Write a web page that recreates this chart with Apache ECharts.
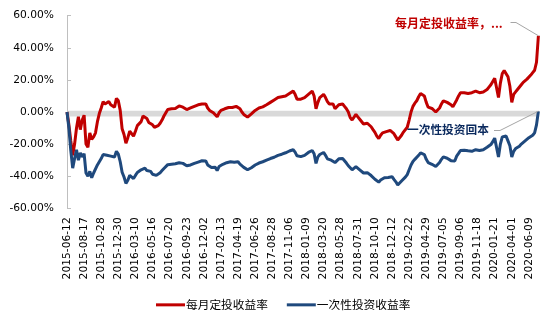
<!DOCTYPE html>
<html>
<head>
<meta charset="utf-8">
<script src="https://cdn.jsdelivr.net/npm/echarts@6/dist/echarts.min.js"></script>
<style>
html,body{margin:0;padding:0;background:#fff;}
#chart{width:554px;height:323px;}
</style>
</head>
<body>
<div id="chart"></div>
<script>
// x-axis tick labels (one every 45 trading days)
const tickLabels = [
  '2015-06-12','2015-08-17','2015-10-28','2015-12-30','2016-03-10','2016-05-16','2016-07-20',
  '2016-09-23','2016-12-02','2017-02-13','2017-04-19','2017-06-26','2017-08-28','2017-11-06',
  '2018-01-09','2018-03-20','2018-05-28','2018-07-31','2018-10-10','2018-12-12','2019-02-22',
  '2019-04-29','2019-07-05','2019-09-06','2019-11-18','2020-01-21','2020-04-01','2020-06-09'
];
const tickEveryDays = 45;
const sampleStepDays = 5;   // one value read every 5 trading days
const seriesNames = ['每月定投收益率', '一次性投资收益率'];

// 每月定投收益率 (%)
const monthlyReturn = [
  0,-8,-18,-27,-20,-10,-3,-11,-5,-2,
  -20,-22,-13,-17,-15.5,-13,-6,-1,2.5,6.5,
  5,6,6.5,4.5,4,3,8.5,7,1,-10.5,
  -14,-19.5,-16,-12,-13,-15,-12,-8.5,-8,-6,
  -2.5,-2.5,-4,-6.5,-6,-8,-9.5,-9.5,-8.5,-7,
  -5,-2.5,-0.5,1.5,1.2,2,3,2.2,2.5,3.8,
  4,3,3,1.5,0.8,2.5,3.5,3.5,4,4.5,
  4.8,5,5.5,5,2.5,1,0,-0.5,-1.5,-3,
  -0.5,1,1.5,2,2.5,2.8,3,2.8,3,3.5,
  4,2,0,-1.5,-2.5,-3.2,-2.5,-1.2,0,1,
  2,2.5,3,3.2,4,4.5,5,6,6.5,7.5,
  8,9,9,9.5,10,10,11,11.5,12,13,
  11,8,7.5,8,8.5,9,10,11,12,13,
  10,2,6,9,10,11,9,6.5,5,5,
  5,2,3,4.5,5.5,5,3.5,2,0,-3.5,
  -5,-4.5,-1.5,-3,-4.5,-5.4,-7.5,-8.2,-7,-7.5,
  -9.2,-11,-12.7,-15,-16.5,-14.5,-13,-11.8,-12.2,-12.7,
  -11.5,-11,-13.5,-15.5,-17.5,-16.5,-14.5,-12.5,-11.5,-9.5,
  -5,0,3.5,5.5,7,9.5,11.5,12,10,6,
  3,2.8,2.2,1.5,0,-1,2.5,5,7,6.5,
  6,5.5,4.5,3.2,4,7.5,10,12,13,12,
  11,11.5,12,12,12.5,13,12.5,12,12,12.5,
  13.5,14,15.5,17,19,21,22,9,18,24,
  25.8,25.5,22,16,6,11,12.5,14,15,17,
  18.5,19,20.5,21.5,23,24.5,26,31,47.5
];

// 一次性投资收益率 (%)
const lumpSumReturn = [
  0,-10,-24,-35,-29,-23.5,-30,-25.5,-28,-26,
  -38,-40,-37,-41,-38,-38.5,-33,-31,-29,-26.5,
  -27.5,-27,-26.5,-27.5,-27,-28,-24.5,-26.2,-31,-37.5,
  -40.5,-44.5,-42.5,-39.5,-40,-41.5,-39.5,-37.7,-37,-36,
  -34.8,-35,-36.5,-37.7,-37,-38.8,-39.5,-39.5,-38.7,-37.8,
  -36.5,-35.2,-34,-32.8,-33.3,-32.5,-31.5,-32.2,-32.3,-31.6,
  -31.5,-32,-32.5,-33.5,-34,-33,-32.3,-32,-31.6,-31.2,
  -30.8,-30.4,-30,-30.5,-33,-34,-34.6,-34.5,-34.5,-36.5,
  -34,-33.2,-32.6,-32,-31.6,-31.2,-31,-31.3,-31.3,-31,
  -31,-32.5,-33.5,-34.5,-35.3,-36,-35.5,-34.7,-33.8,-33,
  -32.3,-31.8,-31.3,-31,-30.5,-30,-29.4,-29,-28.5,-28.2,
  -27.5,-27,-26.8,-26.3,-26,-25.4,-24.8,-24.3,-23.8,-23.5,
  -25,-27.3,-27.8,-27.8,-27.5,-27,-26,-25.2,-24.5,-24,
  -26,-32,-28,-26.5,-26,-25.2,-27,-29.2,-30.2,-30,
  -29.6,-31.5,-30.5,-29.2,-28.4,-29,-30.2,-31.8,-33.5,-34.6,
  -36,-36.2,-34,-34.5,-36,-36.7,-38,-38.6,-37.8,-38.5,
  -39.6,-40.8,-41.9,-43,-43.7,-42.4,-41.5,-40.9,-40.8,-40.8,
  -40.2,-40.3,-42,-43.5,-45.5,-44.3,-43,-41.8,-40.6,-39,
  -36,-33,-30.8,-29.5,-28.3,-27,-25.5,-25,-26.5,-29.5,
  -31.5,-32,-32.6,-33.2,-34,-34.6,-31.5,-29.5,-28,-28.3,
  -28.8,-29.3,-30.3,-31.3,-30.5,-27.5,-25.8,-24,-23,-23.8,
  -24.4,-24.2,-24.4,-24.5,-24,-23.5,-23.6,-24,-24,-23.5,
  -22.6,-22,-21.2,-20.3,-18.5,-16.3,-15.8,-28,-20,-15.5,
  -14.8,-15,-18,-21,-28,-24.5,-22.8,-22,-21.3,-20,
  -18.8,-18,-16.8,-16,-15.2,-14.5,-13,-8,0.5
];

const yTicks = { min: -60, max: 60, step: 20 };
const annotationRed = '每月定投收益率，...';
const annotationBlue = '一次性投资回本';

const toPoints = arr => arr.map((v, i) => [i * sampleStepDays, v]);
const lastDay = (monthlyReturn.length - 1) * sampleStepDays;

const chart = echarts.init(document.getElementById('chart'), null, { renderer: 'canvas' });
const numFont = '"DejaVu Sans", Verdana, sans-serif';
const cjkFont = '"Noto Sans CJK SC", sans-serif';

chart.setOption({
  animation: false,
  backgroundColor: '#fff',
  grid: { left: 67, right: 15.6, top: 15.7, bottom: 114.7, containLabel: false },
  legend: {
    left: 151, top: 294,
    icon: 'rect', itemWidth: 29, itemHeight: 3, itemGap: 19,
    textStyle: { fontFamily: cjkFont, fontSize: 11.7, color: '#000', padding: [0, 0, 0, -4] },
    data: seriesNames
  },
  xAxis: {
    type: 'value', min: 0, max: lastDay, interval: tickEveryDays,
    axisLine: { show: false }, axisTick: { show: false }, splitLine: { show: false },
    axisLabel: {
      rotate: 90, margin: 9, fontSize: 10.7, color: '#000', fontFamily: numFont,
      showMaxLabel: false,
      formatter: v => (v % tickEveryDays === 0 && tickLabels[v / tickEveryDays]) || ''
    }
  },
  yAxis: {
    type: 'value', min: yTicks.min, max: yTicks.max, interval: yTicks.step,
    axisLine: { show: true, lineStyle: { color: '#BFBFBF', width: 1 } },
    axisTick: { show: true, inside: true, length: 4, lineStyle: { color: '#BFBFBF' } },
    splitLine: { show: false },
    axisLabel: {
      margin: 13, fontSize: 10.7, color: '#000', fontFamily: numFont,
      formatter: v => v.toFixed(2) + '%'
    }
  },
  series: [
    {
      name: 'zero-band', type: 'line', data: [], z: 1, silent: true,
      markArea: {
        silent: true,
        itemStyle: { color: '#D9D9D9' },
        data: [[{ yAxis: 0.8 }, { yAxis: -2.8 }]]
      }
    },
    {
      name: seriesNames[0], type: 'line', z: 3, showSymbol: false,
      data: toPoints(monthlyReturn),
      lineStyle: { color: '#C00000', width: 3 },
      itemStyle: { color: '#C00000' }
    },
    {
      name: seriesNames[1], type: 'line', z: 3, showSymbol: false,
      data: toPoints(lumpSumReturn),
      lineStyle: { color: '#1F497D', width: 3 },
      itemStyle: { color: '#1F497D' }
    }
  ]
});

const endRed = chart.convertToPixel({ gridIndex: 0 }, [lastDay, monthlyReturn[monthlyReturn.length - 1]]);
const endBlue = chart.convertToPixel({ gridIndex: 0 }, [lastDay, lumpSumReturn[lumpSumReturn.length - 1]]);

chart.setOption({
  graphic: [
    {
      type: 'polyline', z: 50, silent: true,
      shape: { points: [[510.5, 22.5], [516, 22.5], endRed] },
      style: { stroke: '#A6A6A6', lineWidth: 1, fill: null }
    },
    {
      type: 'polyline', z: 50, silent: true,
      shape: { points: [[494, 130.5], [500, 130.5], endBlue] },
      style: { stroke: '#A6A6A6', lineWidth: 1, fill: null }
    },
    {
      type: 'text', z: 60, silent: true,
      style: { x: 395, y: 23, text: annotationRed, fill: '#C00000',
               font: 'bold 12px ' + cjkFont, verticalAlign: 'middle', align: 'left' }
    },
    {
      type: 'text', z: 60, silent: true,
      style: { x: 407, y: 130, text: annotationBlue, fill: '#0B2A5E',
               font: 'bold 11.7px ' + cjkFont, verticalAlign: 'middle', align: 'left' }
    }
  ]
});
</script>
</body>
</html>
